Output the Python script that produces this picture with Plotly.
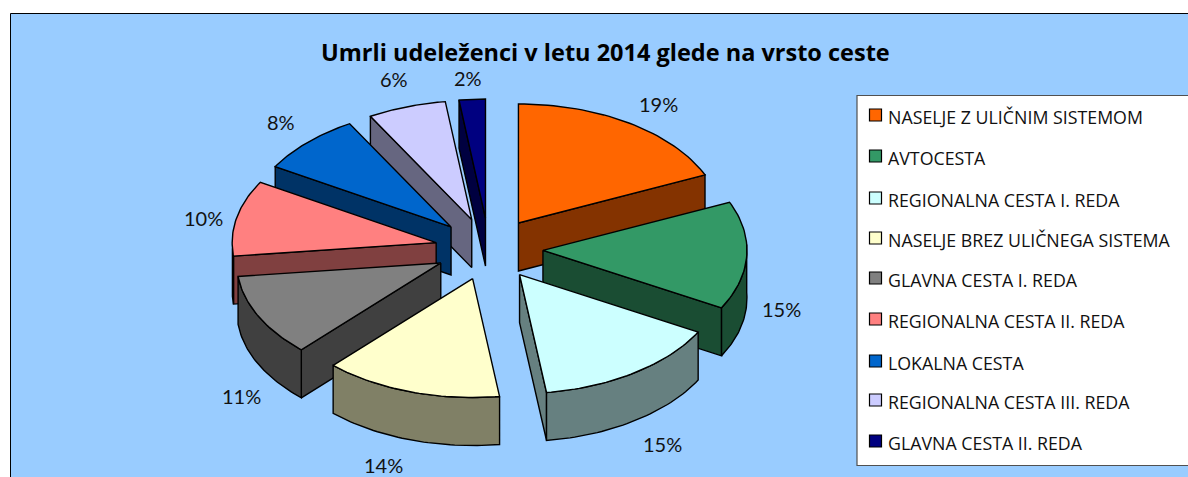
import math
import plotly.graph_objects as go

title = "Umrli udeleženci v letu 2014 glede na vrsto ceste"
categories = ["NASELJE Z ULIČNIM SISTEMOM", "AVTOCESTA", "REGIONALNA CESTA I. REDA",
              "NASELJE BREZ ULIČNEGA SISTEMA", "GLAVNA CESTA I. REDA",
              "REGIONALNA CESTA II. REDA", "LOKALNA CESTA",
              "REGIONALNA CESTA III. REDA", "GLAVNA CESTA II. REDA"]
values = [19, 15, 15, 14, 11, 10, 8, 6, 2]

top_colors = ["#FF6600", "#339966", "#CCFFFF", "#FFFFCC", "#808080",
              "#FF8080", "#0066CC", "#CCCCFF", "#000080"]
side_colors = ["#843300", "#1A4D33", "#668080", "#808066", "#404040",
               "#804040", "#003366", "#666680", "#000040"]

label_xy = [(658, 104), (781, 309), (662, 444), (383, 465), (241, 396),
            (203, 218), (281, 122), (394, 79), (468, 78)]
legend_y = [115, 156, 198, 238, 278, 319, 361, 400, 441]
draw_order = [8, 7, 6, 5, 4, 0, 1, 2, 3]

CX, CY, RX, RY = 489, 249, 204, 119
EX, EY, DEPTH = 54, 31, 48
WARP = math.radians(4)  # the perspective pulls the front of the pie round
EDGE = dict(color="black", width=1.4)


def warp(theta):
    return theta - WARP * math.sin(theta / 2)


def project(theta, ax, ay):
    t = warp(theta)
    return (ax + RX * math.sin(t), ay - RY * math.cos(t))


def arc(t1, t2, ax, ay, n=40):
    return [project(t1 + (t2 - t1) * i / n, ax, ay) for i in range(n + 1)]


def poly(pts, color, name):
    xs = [p[0] for p in pts] + [pts[0][0]]
    ys = [p[1] for p in pts] + [pts[0][1]]
    return go.Scatter(x=xs, y=ys, mode="lines", fill="toself", fillcolor=color,
                      line=EDGE, hoverinfo="text", text=name, showlegend=False)


def drop(pts):
    return [(x, y + DEPTH) for x, y in pts]


total = sum(values)
angles = [0]
for v in values:
    angles.append(angles[-1] + 2 * math.pi * v / total)

fig = go.Figure()
for i in draw_order:
    t1, t2 = angles[i], angles[i + 1]
    mid = warp((t1 + t2) / 2)
    ax = CX + EX * math.sin(mid)
    ay = CY - EY * math.cos(mid)
    name = f"{categories[i]}: {values[i]}%"
    # radial walls facing the viewer
    for t, normal in ((t1, t1 - math.pi / 2), (t2, t2 + math.pi / 2)):
        if math.cos(normal) < -1e-6:
            edge = [(ax, ay), project(t, ax, ay)]
            fig.add_trace(poly(edge + drop(edge)[::-1], side_colors[i], name))
    # outer wall, front half of the rim only
    a = max(t1, math.pi / 2)
    b = min(t2, 3 * math.pi / 2)
    if b > a:
        rim = arc(a, b, ax, ay)
        fig.add_trace(poly(rim + drop(rim)[::-1], side_colors[i], name))
    # top face
    fig.add_trace(poly([(ax, ay)] + arc(t1, t2, ax, ay), top_colors[i], name))

# legend swatches
fig.add_trace(go.Scatter(x=[875.5] * len(categories), y=legend_y, mode="markers",
                         marker=dict(symbol="square", size=12, color=top_colors,
                                     line=dict(color="black", width=1.2)),
                         hovertext=categories, hoverinfo="text", showlegend=False))

annotations = [dict(x=605, y=52, text=f"<b>{title}</b>", showarrow=False,
                    font=dict(family="Open Sans", size=23.5, color="black"),
                    xanchor="center", yanchor="middle")]
for v, (x, y) in zip(values, label_xy):
    annotations.append(dict(x=x, y=y, text=f"{v}%", showarrow=False,
                            font=dict(family="Lato", size=20, color="#111111"),
                            xanchor="center", yanchor="middle"))
for c, y in zip(categories, legend_y):
    annotations.append(dict(x=886, y=y + 2, text=c, showarrow=False,
                            font=dict(family="Open Sans", size=17.8, color="#111111"),
                            xanchor="left", yanchor="middle"))

fig.update_layout(
    width=1188, height=477, margin=dict(l=0, r=0, t=0, b=0),
    paper_bgcolor="white", plot_bgcolor="white", showlegend=False,
    xaxis=dict(range=[0, 1188], visible=False, fixedrange=True),
    yaxis=dict(range=[477, 0], visible=False, fixedrange=True),
    annotations=annotations,
    shapes=[
        dict(type="rect", x0=10.5, y0=13.5, x1=1195, y1=485, layer="below",
             fillcolor="#99CCFF", line=dict(color="black", width=1)),
        dict(type="rect", x0=857, y0=95.5, x1=1195, y1=465.5, layer="below",
             fillcolor="white", line=dict(color="#505050", width=1.2)),
    ],
)
fig.write_html("out.html", config=dict(displayModeBar=False),
               post_script="document.body.style.margin='0';document.body.style.overflow='hidden';")
